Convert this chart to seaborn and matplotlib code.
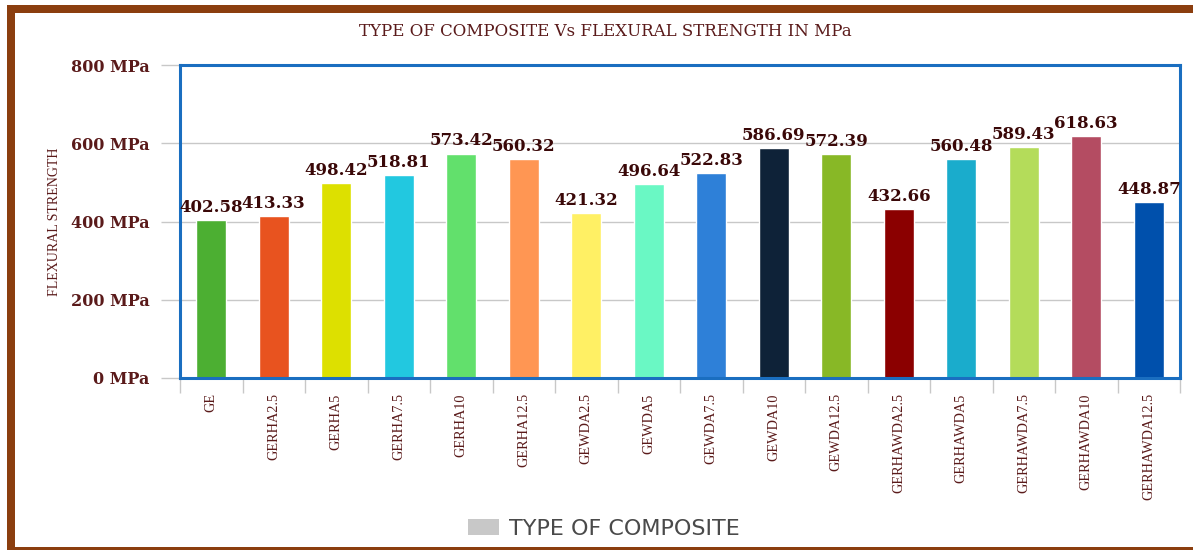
import matplotlib
matplotlib.use("Agg")
import matplotlib.pyplot as plt
from matplotlib.patches import Rectangle, Patch
from matplotlib.ticker import FixedLocator, FuncFormatter
import seaborn as sns
import pandas as pd
import numpy as np

categories = ["GE", "GERHA2.5", "GERHA5", "GERHA7.5", "GERHA10", "GERHA12.5",
              "GEWDA2.5", "GEWDA5", "GEWDA7.5", "GEWDA10", "GEWDA12.5",
              "GERHAWDA2.5", "GERHAWDA5", "GERHAWDA7.5", "GERHAWDA10", "GERHAWDA12.5"]
values = [402.58, 413.33, 498.42, 518.81, 573.42, 560.32,
          421.32, 496.64, 522.83, 586.69, 572.39,
          432.66, 560.48, 589.43, 618.63, 448.87]
colors = ["#4caf32", "#e8531f", "#dde000", "#22c8e0", "#62e06c", "#ff9653",
          "#fff064", "#6af8c4", "#2e80d8", "#0e2238", "#88b826",
          "#8b0000", "#1aaccc", "#b4dc5a", "#b44c62", "#0050ac"]
yticks = [0, 200, 400, 600, 800]
title = "TYPE OF COMPOSITE Vs FLEXURAL STRENGTH IN MPa"
ylabel = "FLEXURAL STRENGTH"
legend_label = "TYPE OF COMPOSITE"

sns.set_style("white")
plt.rcParams["font.family"] = ["Liberation Serif", "DejaVu Serif"]

df = pd.DataFrame({"cat": categories, "val": values})

W, H = 1193, 550
fig = plt.figure(figsize=(W / 100, H / 100), dpi=100)
ax = fig.add_axes([180 / W, 1 - 378 / H, 1000 / W, (378 - 65) / H])

sns.barplot(data=df, x="cat", y="val", hue="cat", palette=colors,
            order=categories, hue_order=categories, dodge=False,
            width=0.48, legend=False, ax=ax, saturation=1)

ax.set_ylim(0, 800)
ax.set_xlim(-0.5, len(categories) - 0.5)

maroon = "#5a1a1a"
dark = "#3a0808"

ax.yaxis.set_major_locator(FixedLocator(yticks))
ax.yaxis.set_major_formatter(FuncFormatter(lambda v, p: f"{int(v)} MPa"))
ax.grid(axis="y", color="#c8c8c8", linewidth=1)
ax.set_axisbelow(True)
ax.tick_params(axis="y", length=14, width=1, color="#c8c8c8", pad=8,
               labelcolor=maroon, left=True)
for lab in ax.get_yticklabels():
    lab.set_fontweight("bold")
    lab.set_family(["DejaVu Serif"])
    lab.set_fontsize(11.5)

ax.set_xticks(range(len(categories)))
ax.set_xticklabels(categories, rotation=90, fontsize=10.3, color=maroon)
ax.tick_params(axis="x", which="major", length=0, pad=11)
ax.set_xticks(np.arange(-0.5, len(categories), 1), minor=True)
ax.tick_params(axis="x", which="minor", length=11, width=1, color="#c8c8c8",
               bottom=True)
ax.set_xlabel("")
ax.set_ylabel(ylabel, fontsize=10, color=maroon, labelpad=7)

for sp in ax.spines.values():
    sp.set_visible(True)
    sp.set_color("#1a6ec0")
    sp.set_linewidth(2.2)

for cont in ax.containers:
    ax.bar_label(cont, fmt="%.2f", padding=3, fontsize=12,
                 fontweight="bold", color=dark, family=["DejaVu Serif"])

fig.text(605 / W, 1 - 32 / H, title, ha="center", va="center",
         fontsize=12, color=maroon, family=["DejaVu Serif"])

fig.legend(handles=[Patch(facecolor="#c8c8c8", edgecolor="none", label=legend_label)],
           loc="center", bbox_to_anchor=(604 / W, 1 - 529 / H), frameon=False,
           prop={"family": "DejaVu Sans", "size": 16}, labelcolor="#4a4a4a",
           handlelength=1.4, handleheight=0.75, handletextpad=0.45)

brown = "#8b3e0f"
fig.patches.extend([
    Rectangle((7 / W, 1 - 13 / H), 1 - 7 / W, 8 / H, transform=fig.transFigure,
              facecolor=brown, edgecolor="none", zorder=10),
    Rectangle((7 / W, 1 - 550 / H), 8 / W, 545 / H, transform=fig.transFigure,
              facecolor=brown, edgecolor="none", zorder=10),
    Rectangle((7 / W, 0), 1 - 7 / W, 3 / H, transform=fig.transFigure,
              facecolor=brown, edgecolor="none", zorder=10),
])

fig.savefig("out.png", dpi=100)
